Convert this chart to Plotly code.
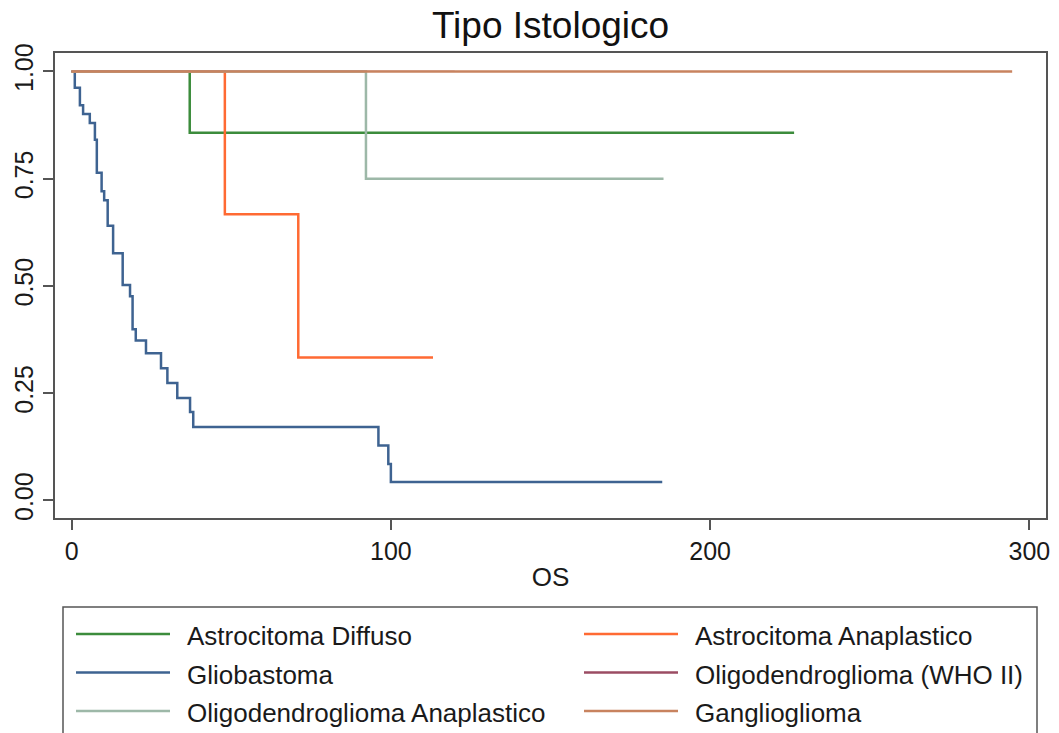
import plotly.graph_objects as go

# ---------------- data ----------------
names = ["Astrocitoma Diffuso", "Astrocitoma Anaplastico", "Gliobastoma",
         "Oligodendroglioma (WHO II)", "Oligodendroglioma Anaplastico", "Ganglioglioma"]
colors = ["#3c8c3c", "#ff6a33", "#3e6391", "#9b4c63", "#9db8a8", "#c8835f"]

# step-function (Kaplan-Meier) data: event times and survival after each step
ad_t = [0, 37.0, 226.3]
ad_s = [1.0, 0.857, 0.857]

aa_t = [0, 48.0, 71.0, 113.2]
aa_s = [1.0, 0.667, 0.333, 0.333]

gb_t = [0, 1.0, 2.6, 3.6, 5.7, 7.3, 7.9, 9.4, 10.2, 11.3, 13.0, 16.0, 18.3, 19.1,
        20.1, 23.3, 28.0, 30.0, 33.1, 37.1, 38.1, 96.1, 99.2, 100.0, 185.0]
gb_s = [1.0, 0.962, 0.921, 0.901, 0.880, 0.841, 0.764, 0.721, 0.700, 0.640, 0.576,
        0.502, 0.476, 0.399, 0.373, 0.343, 0.308, 0.274, 0.239, 0.206, 0.171,
        0.128, 0.085, 0.043, 0.043]

o2_t = [0, 120.0]
o2_s = [1.0, 1.0]

oa_t = [0, 92.2, 185.4]
oa_s = [1.0, 0.75, 0.75]

gg_t = [0, 294.6]
gg_s = [1.0, 1.0]

x_ticks = [0, 100, 200, 300]
y_ticks = [0, 0.25, 0.5, 0.75, 1.0]
y_ticktext = ["0.00", "0.25", "0.50", "0.75", "1.00"]

series = [(ad_t, ad_s), (aa_t, aa_s), (gb_t, gb_s), (o2_t, o2_s), (oa_t, oa_s), (gg_t, gg_s)]
# drawing order (later on top)
draw_order = [2, 0, 1, 4, 3, 5]

FONT = "Liberation Sans, Arial, Helvetica, sans-serif"
W, H = 1059, 733
ML, MR, MT, MB = 55, 13, 53, 215
PW, PH = W - ML - MR, H - MT - MB

fig = go.Figure()
for i in draw_order:
    t, s = series[i]
    fig.add_trace(go.Scatter(x=t, y=s, mode="lines", name=names[i],
                             line=dict(color=colors[i], width=1.2 if i == 3 else 2.5,
                                       shape="hv"),
                             showlegend=False, hoverinfo="x+y+name"))

axcol = "#555555"
fig.update_layout(
    width=W, height=H,
    margin=dict(l=ML, r=MR, t=MT, b=MB, autoexpand=False),
    paper_bgcolor="white", plot_bgcolor="white",
    font=dict(family=FONT, size=25, color="#1a1a1a"),
    title=dict(text="Tipo Istologico", x=0.5, xref="paper", xanchor="center",
               y=1 - 25 / H, yref="container", yanchor="middle",
               font=dict(family=FONT, size=37, color="#111111")),
    xaxis=dict(range=[-5.2, 305.2], tickvals=x_ticks, ticks="outside", ticklen=10,
               tickwidth=1.5, tickcolor=axcol, showline=True, linecolor=axcol,
               linewidth=2, mirror=True, showgrid=False, zeroline=False,
               tickfont=dict(size=25),
               title=dict(text="OS", font=dict(size=26), standoff=4)),
    yaxis=dict(range=[-0.041, 1.043], tickvals=y_ticks, ticktext=y_ticktext,
               tickangle=-90, ticks="outside", ticklen=10, tickwidth=1.5,
               tickcolor=axcol, showline=True, linecolor=axcol, linewidth=2,
               mirror=True, showgrid=False, zeroline=False,
               tickfont=dict(size=25)),
)

# ---------------- manual legend (two columns, row-major) ----------------
def px_x(px):
    return (px - ML) / PW

def px_y(py):
    return (H - MB - py) / PH

fig.add_shape(type="rect", xref="paper", yref="paper",
              x0=px_x(63), x1=px_x(1037), y0=px_y(607), y1=px_y(760),
              line=dict(color="#555555", width=1.5), fillcolor="rgba(0,0,0,0)")

row_y = [634, 672.5, 711]
col_line_x = [(76, 170), (584, 678)]
col_text_x = [185, 693]
for k, name in enumerate(names):
    r, c = divmod(k, 2)
    y = row_y[r]
    fig.add_shape(type="line", xref="paper", yref="paper",
                  x0=px_x(col_line_x[c][0]), x1=px_x(col_line_x[c][1]),
                  y0=px_y(y), y1=px_y(y),
                  line=dict(color=colors[k], width=2.5))
    fig.add_annotation(text=name, xref="paper", yref="paper",
                       x=px_x(col_text_x[c]), y=px_y(y + 2), xanchor="left",
                       yanchor="middle", showarrow=False,
                       font=dict(family=FONT, size=26, color="#1a1a1a"))

fig.write_html("out.html",
               config={"displayModeBar": False},
               post_script="document.body.style.margin='0';"
                           "document.body.style.overflow='hidden';")
